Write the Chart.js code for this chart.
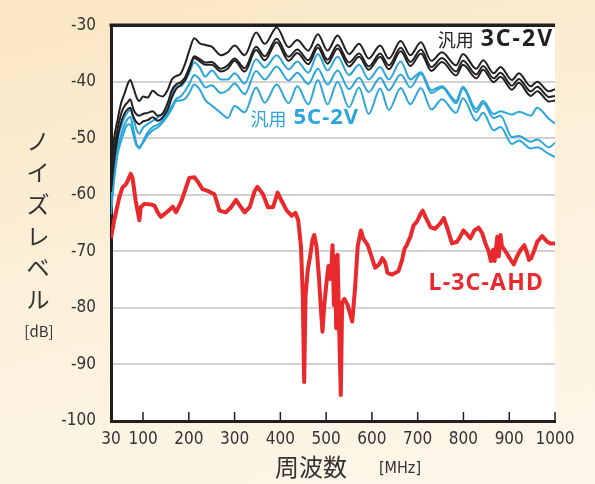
<!DOCTYPE html>
<html>
<head>
<meta charset="utf-8">
<script src="https://cdn.jsdelivr.net/npm/chart.js@4.4.0/dist/chart.umd.min.js"></script>
<style>
  html, body { margin: 0; padding: 0; }
  body {
    width: 595px; height: 484px; overflow: hidden;
    background: linear-gradient(165deg, #f9e5c2 0%, #fcf0da 45%, #fdf6ea 100%);
  }
  #wrap { position: relative; width: 595px; height: 484px; }
</style>
</head>
<body>
<div id="wrap"><canvas id="chart" width="595" height="484"></canvas></div>
<script>
// frequency grid shared by the six cable curves [MHz]
const freqs = [30, 36, 44, 52, 60, 66, 72, 79, 86, 92, 100, 110, 121, 132, 143, 154, 163, 172, 182, 192,
  201, 212, 224, 236, 250, 270, 285, 300, 322, 347, 366, 392, 418, 437, 461, 482, 503, 525, 550, 572,
  593, 618, 637, 663, 684, 707, 730, 753, 784, 799, 828, 843, 866, 881, 906, 921, 947, 961, 987, 1000];

// 汎用 3C-2V (black)
const black1 = [-57, -50.5, -46.9, -43.8, -42.0, -40.5, -39.7, -41.1, -42.8, -43.4, -42.6, -42.8, -41.6, -42.3, -42.6, -41.4, -39.6, -39.0, -38.6, -36.8,
  -34.5, -32.3, -33.2, -33.5, -33.8, -35.3, -34.8, -33.6, -35.3, -31.3, -33.3, -30.4, -33.9, -32.6, -34.5, -31.6, -34.5, -31.8, -35.1, -33.3,
  -35.9, -33.6, -35.9, -32.8, -35.3, -33.0, -36.3, -34.8, -37.1, -35.1, -37.7, -36.2, -38.5, -37.4, -39.7, -38.5, -40.8, -40.0, -41.7, -41.3];
const black2 = [-58.5, -53, -48.5, -45.7, -44.2, -43.7, -43.1, -44.9, -45.8, -46.0, -45.7, -45.5, -45.2, -46.0, -45.6, -43.7, -41.5, -40.5, -40.1, -39.2,
  -37.5, -35.5, -36.0, -36.6, -36.5, -37.7, -37.1, -35.9, -37.6, -33.8, -35.5, -32.4, -35.6, -34.3, -36.2, -33.4, -36.1, -33.5, -36.6, -35.0,
  -37.3, -35.0, -37.1, -34.0, -36.5, -34.3, -37.4, -35.8, -38.2, -36.3, -38.7, -37.2, -39.4, -38.4, -40.7, -39.5, -41.7, -40.9, -42.7, -42.5];
const black3 = [-59.5, -54.5, -50, -47.2, -45.5, -44.9, -44.6, -46.2, -47.2, -47.5, -47.0, -46.8, -46.3, -46.9, -46.3, -44.9, -42.8, -41.3, -40.6, -39.7,
  -38.0, -35.8, -36.4, -37.0, -37.0, -38.2, -37.7, -36.3, -38.2, -34.4, -36.2, -33.0, -36.3, -34.9, -36.9, -34.0, -36.8, -34.1, -37.3, -35.6,
  -37.9, -35.6, -37.8, -34.6, -37.2, -35.0, -38.1, -36.5, -38.9, -37.0, -39.4, -37.9, -40.1, -39.1, -41.4, -40.2, -42.5, -41.7, -43.5, -43.3];

// 汎用 5C-2V (blue)
const blue1 = [-62.0, -55.5, -50.5, -48.0, -46.2, -45.4, -45.0, -46.6, -48.5, -49.2, -48.1, -47.5, -46.9, -46.3, -45.7, -44.6, -42.3, -40.8, -40.8, -39.8,
  -38.4, -36.6, -37.5, -39.1, -38.0, -39.6, -39.6, -38.5, -40.3, -36.0, -37.5, -35.3, -37.8, -36.4, -38.4, -35.1, -38.0, -35.6, -38.8, -37.0,
  -39.6, -37.4, -39.6, -36.4, -39.6, -38.3, -41.5, -40.8, -43.4, -40.9, -44.8, -43.4, -45.7, -45.2, -45.8, -45.3, -46.0, -44.6, -46.6, -47.4];
const blue2 = [-62.5, -57, -52, -49.5, -47.5, -46.6, -46.2, -48.5, -51.0, -51.8, -50.5, -49.0, -48.0, -47.6, -46.8, -45.5, -44.3, -43.1, -42.6, -41.6,
  -40.4, -38.8, -39.6, -41.0, -40.6, -42.0, -41.5, -40.3, -42.2, -38.1, -39.6, -37.3, -39.8, -38.4, -40.4, -37.7, -40.5, -38.0, -41.3, -39.3,
  -41.8, -39.3, -41.5, -38.7, -41.0, -38.6, -42.0, -41.0, -43.8, -41.2, -45.4, -43.8, -46.4, -46.0, -49.8, -49.6, -50.6, -50.2, -51.6, -50.8];
const blue3 = [-63.5, -58, -53, -50.5, -48.5, -47.6, -47.5, -49.5, -51.3, -51.5, -50.8, -49.5, -48.6, -48.1, -47.2, -46.0, -44.8, -43.4, -43.3, -43.0,
  -42.0, -40.5, -41.4, -43.2, -44.2, -45.5, -46.4, -44.3, -45.4, -41.0, -43.7, -40.5, -43.8, -40.8, -44.0, -39.7, -44.0, -40.0, -44.5, -41.0,
  -45.7, -41.2, -45.0, -41.1, -44.0, -41.1, -44.9, -43.1, -45.5, -42.9, -46.9, -45.5, -48.6, -48.0, -51.0, -50.4, -51.8, -51.6, -52.8, -53.3];

// L-3C-AHD (red)
const redFreqs = [30, 37, 48, 55, 62, 66, 73, 77, 84, 92, 95, 103, 117, 125, 132, 139, 150, 165, 172, 183,
  194, 201, 212, 219, 230, 241, 256, 267, 281, 292, 303, 314, 322, 333, 344, 350, 362, 373, 384, 394,
  403, 414, 425, 433, 439, 445, 449, 452, 455, 460, 465, 470, 474, 479, 484, 489, 492, 496, 500, 505,
  509, 512, 514, 517, 519, 522, 525, 528, 532, 535, 540, 547, 557, 563, 569, 576, 581, 591, 598, 607,
  616, 623, 629, 634, 644, 658, 666, 671, 676, 684, 691, 698, 706, 711, 717, 728, 738, 749, 757, 764,
  775, 786, 793, 800, 806, 815, 824, 833, 841, 848, 855, 860, 865, 868, 874, 877, 881, 884, 892, 903,
  910, 917, 925, 933, 939, 943, 948, 954, 961, 972, 983, 990, 1000];
const redLevels = [-67.7, -64.5, -60.5, -58.7, -58.2, -57.6, -56.3, -57.0, -61.1, -64.5, -62.2, -61.6, -61.7, -61.9, -63.1, -63.9, -63.2, -62.1, -63.1, -61.3,
  -58.7, -57.0, -56.9, -57.6, -59.0, -59.3, -59.9, -62.8, -63.1, -62.2, -60.9, -62.2, -63.1, -62.2, -59.3, -58.6, -59.9, -62.2, -62.2, -59.6,
  -61.1, -62.8, -63.7, -63.2, -64.5, -69.1, -77.8, -93.1, -77.8, -73.2, -70.9, -68.0, -67.1, -69.1, -74.3, -80.7, -84.2, -79.5, -76.1, -72.6,
  -74.9, -72.0, -68.9, -79.5, -70.9, -83.6, -70.6, -81.9, -95.4, -79.0, -78.4, -79.5, -82.4, -76.7, -69.1, -66.3, -67.7, -68.9, -70.6, -72.9,
  -72.3, -71.2, -72.0, -73.8, -74.1, -73.5, -71.5, -69.6, -68.9, -67.4, -65.4, -64.8, -63.4, -62.8, -63.9, -65.7, -66.0, -65.1, -64.1, -65.7,
  -68.6, -68.3, -67.4, -66.3, -66.8, -67.7, -66.3, -65.8, -66.8, -68.6, -70.0, -71.7, -69.7, -71.7, -67.4, -70.9, -67.1, -69.1, -70.0, -71.5,
  -72.3, -70.9, -69.7, -68.9, -70.3, -71.5, -71.2, -70.0, -68.3, -67.3, -68.3, -68.6, -68.6];

const xTicks = [30, 100, 200, 300, 400, 500, 600, 700, 800, 900, 1000];
const yTicks = [-100, -90, -80, -70, -60, -50, -40, -30];
const yTitleChars = ["ノ", "イ", "ズ", "レ", "ベ", "ル"];

const BLACK = "#231f20";
const BLUE = "#2ba6dd";
const RED = "#e9292c";
const TEXT = "#333333";
const NARROW = "'Liberation Sans Narrow', 'DejaVu Sans Condensed', 'Roboto', sans-serif";
const JP = "'Noto Sans CJK JP', 'Noto Sans', sans-serif";

const toPoints = (xs, ys) => xs.map((x, i) => ({ x: x, y: ys[i] }));

const cableLine = (values, color) => ({
  data: toPoints(freqs, values),
  borderColor: color,
  borderWidth: 2,
  pointRadius: 0,
  cubicInterpolationMode: "monotone",
  fill: false
});

// white plot area, top frame, inner x ticks, free text
const decor = {
  id: "decor",
  beforeDatasetsDraw(chart) {
    const { ctx, chartArea: a } = chart;
    ctx.save();
    ctx.fillStyle = "#ffffff";
    ctx.globalCompositeOperation = "destination-over";
    ctx.fillRect(a.left, a.top, a.right - a.left, a.bottom - a.top);
    ctx.restore();
  },
  afterDraw(chart) {
    const { ctx, chartArea: a, scales } = chart;
    const x = scales.x, y = scales.y;
    ctx.save();
    // top frame
    ctx.strokeStyle = BLACK;
    ctx.lineWidth = 3.5;
    ctx.beginPath();
    ctx.moveTo(a.left - 1.5, a.top);
    ctx.lineTo(a.right, a.top);
    ctx.stroke();
    // inner tick marks on the frequency axis
    ctx.lineWidth = 1.5;
    x.ticks.forEach((t, i) => {
      const px = x.getPixelForTick(i);
      ctx.beginPath();
      ctx.moveTo(px, a.bottom);
      ctx.lineTo(px, a.bottom - 9);
      ctx.stroke();
    });

    // curve labels
    ctx.textBaseline = "middle";
    const label = (pre, main, f, v, color, mainSize, spacing) => {
      const px = x.getPixelForValue(f), py = y.getPixelForValue(v);
      ctx.fillStyle = color;
      ctx.textAlign = "right";
      ctx.font = `bold ${mainSize}px 'Noto Sans', sans-serif`;
      ctx.letterSpacing = spacing + "px";
      ctx.fillText(main, px, py);
      const w = ctx.measureText(main).width;
      if (pre) {
        ctx.letterSpacing = "0px";
        ctx.font = `18px ${JP}`;
        ctx.fillText(pre, px - w - 7, py + 1);
      }
      ctx.letterSpacing = "0px";
    };
    label("汎用", "3C-2V", 998, -32.5, BLACK, 23, 2);
    label("汎用", "5C-2V", 572, -46.4, BLUE, 22, 1);
    label("", "L-3C-AHD", 976, -75.6, RED, 23, 1.2);

    // vertical axis title, stacked characters
    ctx.fillStyle = TEXT;
    ctx.textAlign = "center";
    ctx.font = `23px ${JP}`;
    yTitleChars.forEach((c, i) => ctx.fillText(c, 38, 141 + i * 31.6));
    ctx.font = `15px ${JP}`;
    ctx.fillText("[dB]", 39, 331);

    // frequency axis title
    ctx.font = `24px ${JP}`;
    ctx.fillText("周波数", 311, 467);
    ctx.font = `16px ${NARROW}`;
    ctx.fillText("[MHz]", 400, 469);
    ctx.restore();
  }
};

new Chart(document.getElementById("chart"), {
  type: "line",
  data: {
    datasets: [
      {
        data: toPoints(redFreqs, redLevels),
        borderColor: RED,
        borderWidth: 4,
        pointRadius: 0,
        tension: 0,
        borderJoinStyle: "round",
        fill: false
      },
      cableLine(black1, BLACK),
      cableLine(black2, BLACK),
      cableLine(black3, BLACK),
      cableLine(blue1, BLUE),
      cableLine(blue2, BLUE),
      cableLine(blue3, BLUE)
    ]
  },
  options: {
    responsive: false,
    animation: false,
    devicePixelRatio: 1,
    layout: { padding: { left: 0, right: 40, top: 17, bottom: 0 } },
    plugins: { legend: { display: false }, tooltip: { enabled: false } },
    scales: {
      x: {
        type: "linear",
        min: 30,
        max: 1000,
        afterBuildTicks: (scale) => { scale.ticks = xTicks.map(v => ({ value: v })); },
        afterFit: (scale) => { scale.height = 63; },
        grid: { display: false, drawTicks: false },
        border: { display: true, color: BLACK, width: 3 },
        ticks: {
          padding: 8,
          maxRotation: 0,
          autoSkip: false,
          color: TEXT,
          font: { family: NARROW, size: 17 },
          callback: (v) => String(v)
        }
      },
      y: {
        min: -100,
        max: -30,
        afterBuildTicks: (scale) => { scale.ticks = yTicks.map(v => ({ value: v })); },
        afterFit: (scale) => { scale.width = 111; },
        grid: { color: "#d2d2d2", lineWidth: 2, drawTicks: false },
        border: { display: true, color: BLACK, width: 3 },
        ticks: {
          padding: 15,
          color: TEXT,
          font: { family: NARROW, size: 17 },
          callback: (v) => String(v)
        }
      }
    }
  },
  plugins: [decor]
});
</script>
</body>
</html>
